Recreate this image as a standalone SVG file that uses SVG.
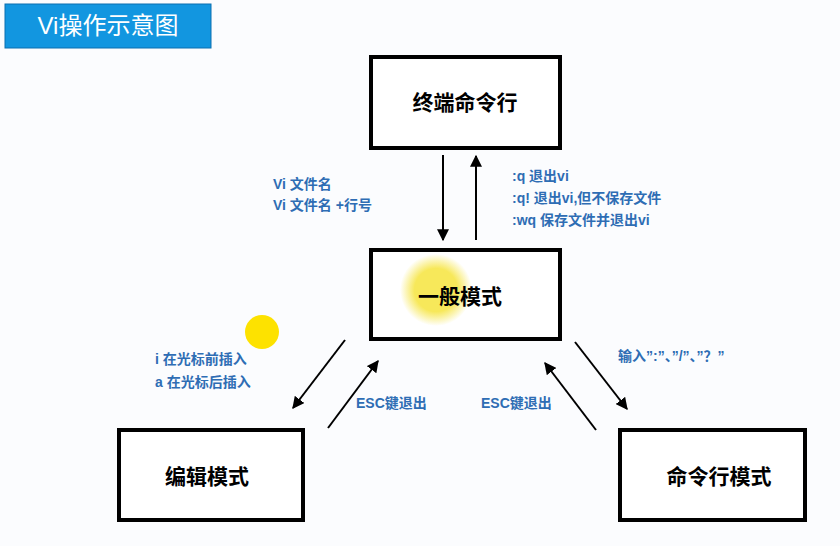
<svg xmlns="http://www.w3.org/2000/svg" width="840" height="546" viewBox="0 0 840 546">
<style>
.box{fill:#fff;stroke:#000;stroke-width:4}
.nt{font-family:"Liberation Sans","Noto Sans CJK SC",sans-serif;font-size:21px;font-weight:bold;fill:#000;text-anchor:middle}
.lb{font-family:"Liberation Sans","Noto Sans CJK SC",sans-serif;font-size:14px;font-weight:bold;fill:#2e6db4}
.ar{stroke:#000;stroke-width:2;fill:none;marker-end:url(#ah)}
</style>
<defs>
<marker id="ah" viewBox="0 0 10 10" refX="9" refY="5" markerWidth="6" markerHeight="6" orient="auto"><path d="M0,0L10,5L0,10z" fill="#000"/></marker>
<radialGradient id="glow"><stop offset="0.6" stop-color="#f7e85a"/><stop offset="1" stop-color="#f7e85a" stop-opacity="0"/></radialGradient>
</defs>
<rect width="840" height="546" fill="#fbfcfe"/>
<g id="title"><rect x="5" y="4" width="206" height="44" fill="#1296e0" stroke="#0b6fb0"/><text x="108" y="34" font-family="Liberation Sans,'Noto Sans CJK SC',sans-serif" font-size="24" fill="#fff" text-anchor="middle">Vi操作示意图</text></g>
<g id="terminal"><rect class="box" x="371" y="57" width="189" height="91"/><text class="nt" x="465" y="110">终端命令行</text></g>
<g id="normal"><rect class="box" x="371" y="250" width="189" height="89"/><circle cx="436" cy="290" r="36" fill="url(#glow)"/><text class="nt" x="460" y="304">一般模式</text></g>
<g id="edit"><rect class="box" x="119" y="430" width="184" height="90"/><text class="nt" x="207" y="484">编辑模式</text></g>
<g id="cmdline"><rect class="box" x="620" y="430" width="185" height="90"/><text class="nt" x="719" y="484">命令行模式</text></g>
<circle cx="262" cy="332" r="17" fill="#fde200"/>
<g id="connectors">
<line class="ar" x1="443" y1="155" x2="443" y2="240"/>
<line class="ar" x1="476" y1="240" x2="476" y2="156"/>
<line class="ar" x1="345" y1="340" x2="293" y2="408"/>
<line class="ar" x1="328" y1="428" x2="378" y2="361"/>
<line class="ar" x1="575" y1="342" x2="627" y2="409"/>
<line class="ar" x1="596" y1="430" x2="545" y2="363"/>
</g>
<g id="labels">
<text class="lb" x="273" y="189">Vi 文件名</text>
<text class="lb" x="273" y="210">Vi  文件名  +行号</text>
<text class="lb" x="512" y="181">:q   退出vi</text>
<text class="lb" x="512" y="203">:q!  退出vi,但不保存文件</text>
<text class="lb" x="512" y="225">:wq 保存文件并退出vi</text>
<text class="lb" x="155" y="364">i  在光标前插入</text>
<text class="lb" x="155" y="387">a 在光标后插入</text>
<text class="lb" x="356" y="408">ESC键退出</text>
<text class="lb" x="481" y="408">ESC键退出</text>
<text class="lb" x="618" y="361">输入”:”、”/”、”？”</text>
</g>
</svg>
